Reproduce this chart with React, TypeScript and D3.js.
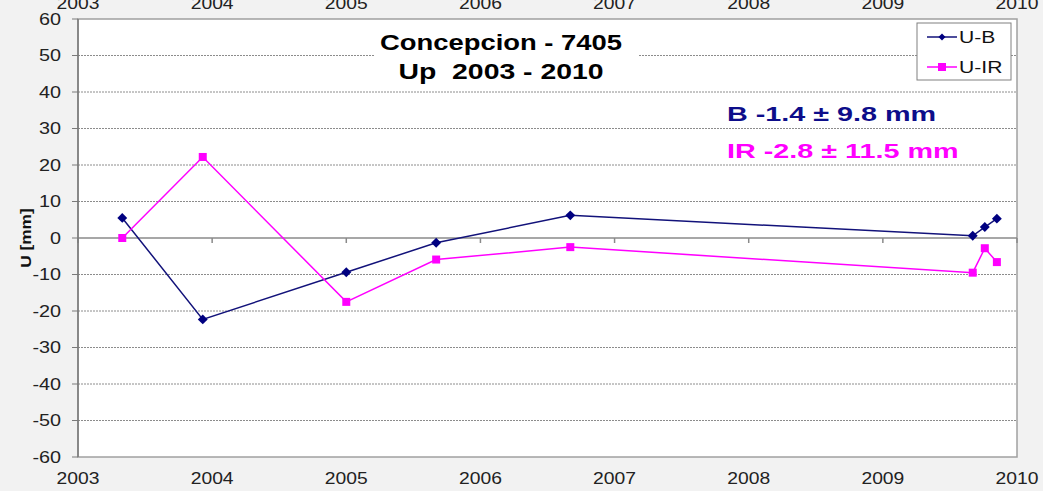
import React from "react";
import * as d3 from "d3";

const seriesNames = ["U-B", "U-IR"];
const epochs = [2003.33, 2003.93, 2005.0, 2005.67, 2006.67, 2009.67, 2009.76, 2009.85];
const uB = [5.5, -22.3, -9.4, -1.3, 6.2, 0.6, 3.0, 5.3];
const uIR = [0.0, 22.2, -17.5, -5.9, -2.5, -9.5, -2.8, -6.6];
const yearTicks = [2003, 2004, 2005, 2006, 2007, 2008, 2009, 2010];
const yTicks = [60, 50, 40, 30, 20, 10, 0, -10, -20, -30, -40, -50, -60];
const titleLines = ["Concepcion - 7405", "Up  2003 - 2010"];
const statB = "B -1.4 ± 9.8 mm";
const statIR = "IR -2.8 ± 11.5 mm";

const W = 1043, H = 491;
const L = 78, R = 1017, T = 19, B = 457;
const blue = "#12127a";
const pink = "#ff00ff";
const font = "'Liberation Sans', Arial, sans-serif";
const SX = 1.2;

function SText(props: { x: number; y: number; anchor?: string; size: number; sx?: number; weight?: string; fill?: string; children: React.ReactNode; dy?: string }) {
  const { x, y, anchor = "start", size, sx = SX, weight = "normal", fill = "#222", dy } = props;
  return (
    <text transform={`translate(${x},${y}) scale(${sx},1)`} textAnchor={anchor} dy={dy}
      fontFamily={font} fontSize={size} fontWeight={weight} fill={fill} style={{ whiteSpace: "pre" }}>{props.children}</text>
  );
}

export default function App() {
  const x = d3.scaleLinear().domain([2003, 2010]).range([L, R]);
  const y = d3.scaleLinear().domain([-60, 60]).range([B, T]);
  const line = d3.line<number>().x((_, i) => x(epochs[i])).y((d) => y(d));
  return (
    <svg width={W} height={H} style={{ position: "absolute", left: 0, top: 0, background: "#f2f2f2" }}>
      <rect x={0} y={0} width={W} height={H} fill="#f2f2f2" />
      <rect x={L} y={T} width={R - L} height={B - T} fill="#fff" stroke="#a0a0a0" strokeWidth={1.5} />
      {yTicks.filter((t) => t !== 0 && t !== 60 && t !== -60).map((t) => (
        <line key={t} x1={L} x2={R} y1={y(t)} y2={y(t)} stroke="#8c8c8c" strokeWidth={1} strokeDasharray="2,1" />
      ))}
      <rect x={375} y={25} width={264} height={62} fill="#fff" />
      {/* zero line */}
      <line x1={L} x2={R} y1={y(0)} y2={y(0)} stroke="#8a8a8a" strokeWidth={1.5} />
      {yearTicks.map((t) => (
        <line key={t} x1={x(t)} x2={x(t)} y1={y(0)} y2={y(0) + 5} stroke="#8a8a8a" strokeWidth={1.5} />
      ))}
      {/* left axis */}
      <line x1={L} x2={L} y1={T} y2={B} stroke="#7a7a7a" strokeWidth={1.5} />
      {yTicks.map((t) => (
        <g key={t}>
          <line x1={L - 6} x2={L} y1={y(t)} y2={y(t)} stroke="#7a7a7a" strokeWidth={1} />
          <SText x={L - 17} y={y(t)} dy="0.36em" anchor="end" size={16.5}>{t}</SText>
        </g>
      ))}
      {yearTicks.map((t) => (
        <g key={t}>
          <SText x={x(t)} y={484} anchor="middle" size={16.5} sx={1.17}>{t}</SText>
          <SText x={x(t)} y={9} anchor="middle" size={16.5} sx={1.17}>{t}</SText>
        </g>
      ))}
      <text transform={`translate(31,${y(0)}) rotate(-90) scale(1.15,1)`} textAnchor="middle" fontFamily={font} fontSize={15} fontWeight="bold" fill="#111">U [mm]</text>
      {/* series */}
      <path d={line(uB) || ""} fill="none" stroke={blue} strokeWidth={1.5} />
      {uB.map((v, i) => (
        <rect key={i} x={-3.5} y={-3.5} width={7} height={7} fill="#000080"
          transform={`translate(${x(epochs[i])},${y(v)}) rotate(45)`} />
      ))}
      <path d={line(uIR) || ""} fill="none" stroke={pink} strokeWidth={1.5} />
      {uIR.map((v, i) => (
        <rect key={i} x={x(epochs[i]) - 4} y={y(v) - 4} width={8} height={8} fill={pink} />
      ))}
      {/* title */}
      <SText x={501} y={49.5} anchor="middle" size={22} sx={1.245} weight="bold" fill="#000">{titleLines[0]}</SText>
      <SText x={501} y={78.5} anchor="middle" size={22} sx={1.29} weight="bold" fill="#000">{titleLines[1]}</SText>
      <SText x={727} y={121} size={21} sx={1.37} weight="bold" fill="#0d0d8a">{statB}</SText>
      <SText x={727} y={158} size={21} sx={1.37} weight="bold" fill={pink}>{statIR}</SText>
      {/* legend */}
      <rect x={917} y={23} width={94} height={57} fill="#fff" stroke="#808080" strokeWidth={1} />
      <line x1={927} x2={957} y1={37} y2={37} stroke={blue} strokeWidth={1.5} />
      <rect x={-2.5} y={-2.5} width={5} height={5} fill="#000080" transform="translate(942,37) rotate(45)" />
      <SText x={959} y={37} dy="0.36em" size={16.5} sx={1.28} fill="#111">{seriesNames[0]}</SText>
      <line x1={927} x2={957} y1={67} y2={67} stroke={pink} strokeWidth={1.5} />
      <rect x={938} y={63} width={8} height={8} fill={pink} />
      <SText x={959} y={67} dy="0.36em" size={16.5} sx={1.28} fill="#111">{seriesNames[1]}</SText>
    </svg>
  );
}
